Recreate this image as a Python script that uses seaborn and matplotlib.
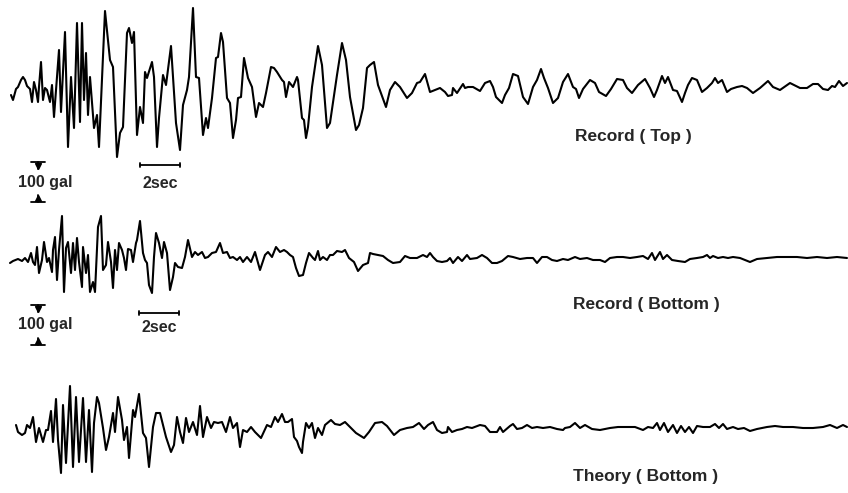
import numpy as np
import pandas as pd
import matplotlib
matplotlib.use("Agg")
import matplotlib.pyplot as plt
import seaborn as sns

# time (s), acceleration (gal)
record_top = [
    (0.55, -17.5), (0.65, -30), (0.80, -2.5), (0.90, 2.5), (1.05, 20), (1.15, 27.5),
    (1.25, 20), (1.35, 5), (1.50, -2.5), (1.60, -35), (1.70, 15), (1.80, -5),
    (1.90, -35), (1.95, 2.5), (2.05, 65), (2.15, -30), (2.25, 0), (2.35, -5),
    (2.50, -35), (2.60, 7.5), (2.70, -72.5), (2.80, -5), (2.95, 95), (3.05, -60),
    (3.25, 140), (3.40, -147.5), (3.55, 27.5), (3.70, -100), (3.85, 162.5), (4.00, -85),
    (4.10, 162.5), (4.20, -30), (4.30, 87.5), (4.40, -67.5), (4.50, 27.5), (4.70, -100),
    (4.85, -67.5), (4.95, -147.5), (5.25, 192.5), (5.50, 70), (5.65, 52.5), (5.85, -172.5),
    (6.00, -112.5), (6.15, -97.5), (6.35, 137.5), (6.45, 150), (6.60, 112.5), (6.70, 140),
    (6.85, -117.5), (7.00, -47.5), (7.15, -87.5), (7.25, 40), (7.35, 25), (7.60, 65),
    (7.70, 27.5), (7.85, -147.5), (7.95, -75), (8.10, 7.5), (8.15, 32.5), (8.30, 7.5),
    (8.55, 105), (8.65, 27.5), (8.80, -87.5), (9.00, -155), (9.15, -42.5), (9.35, -5),
    (9.45, 27.5), (9.65, 200), (9.80, 27.5), (9.95, 25), (10.15, -117.5), (10.30, -75),
    (10.40, -100), (10.60, -25), (10.80, 75), (10.90, 77.5), (11.05, 137.5), (11.15, 115),
    (11.35, -25), (11.50, -37.5), (11.65, -125), (11.80, -80), (11.90, -25), (12.05, -22.5),
    (12.20, 75), (12.40, 25), (12.60, 2.5), (12.80, -72.5), (12.95, -37.5), (13.15, -47.5),
    (13.30, -12.5), (13.55, 52.5), (13.70, 50), (13.85, 40), (14.10, 20), (14.20, 15),
    (14.30, -22.5), (14.45, 15), (14.65, 2.5), (14.85, 27.5), (14.90, 20), (15.10, -75),
    (15.20, -80), (15.30, -125), (15.40, -97.5), (15.60, 2.5), (15.90, 105), (16.10, 57.5),
    (16.35, -100), (16.50, -87.5), (16.85, 32.5), (17.10, 112.5), (17.30, 70), (17.50, -22.5),
    (17.80, -105), (17.95, -92.5), (18.15, -50), (18.35, 50), (18.50, 57.5), (18.70, 65),
    (18.90, 7.5), (19.30, -47.5), (19.50, -5), (19.75, 15), (20.00, 2.5), (20.35, -25),
    (20.60, -12.5), (20.85, 12.5), (21.00, 15), (21.25, 35), (21.50, -10), (21.75, -5),
    (22.00, 0), (22.25, -10), (22.40, -20), (22.60, -17.5), (22.65, 0), (22.85, -12.5),
    (23.15, 10), (23.25, 0), (23.40, 2.5), (23.65, 2.5), (24.00, -7.5), (24.25, 12.5),
    (24.50, 17.5), (24.65, 2.5), (24.80, -22.5), (25.10, -37.5), (25.25, -17.5), (25.45, 0),
    (25.65, 35), (25.90, 30), (26.15, -22.5), (26.40, -40), (26.65, 2.5), (26.85, 20),
    (27.05, 47.5), (27.20, 25), (27.40, 0), (27.65, -37.5), (27.90, -25), (28.15, 15),
    (28.40, 35), (28.65, 2.5), (28.80, -2.5), (28.95, -25), (29.15, -2.5), (29.50, 20),
    (29.75, 12.5), (29.95, -10), (30.30, -20), (30.55, -2.5), (30.85, 22.5), (31.15, 20),
    (31.35, 0), (31.60, -12.5), (31.90, 7.5), (32.25, 22.5), (32.50, 0), (32.70, -22.5),
    (32.85, -5), (33.10, 30), (33.25, 12.5), (33.40, 27.5), (33.65, -5), (33.85, -7.5),
    (34.10, -35), (34.25, -12.5), (34.40, 7.5), (34.60, 25), (34.85, 20), (35.10, -10),
    (35.35, 0), (35.60, 12.5), (35.75, 25), (35.90, 12.5), (36.10, 20), (36.35, -10),
    (36.55, -2.5), (36.85, 2.5), (37.10, 5), (37.35, 0), (37.65, -12.5), (38.00, 0),
    (38.40, 17.5), (38.65, 2.5), (39.00, -5), (39.50, 12.5), (40.00, 0), (40.35, 0),
    (40.65, 10), (40.90, 10), (41.15, -2.5), (41.40, -5), (41.60, 5), (41.75, 2.5),
    (41.95, 17.5), (42.15, 5), (42.35, 12.5),
]

record_bottom = [
    (0.50, -12.5), (0.65, -7.5), (0.90, -2.5), (1.10, -7.5), (1.25, 0), (1.40, -10),
    (1.55, 12.5), (1.65, -10), (1.75, -17.5), (1.85, 27.5), (1.95, -37.5), (2.10, -5),
    (2.20, 40), (2.35, -10), (2.45, 0), (2.60, -35), (2.65, 20), (2.75, 52.5),
    (2.85, -55), (2.95, 20), (3.10, 105), (3.20, -85), (3.30, 25), (3.40, 40),
    (3.55, -37.5), (3.65, 37.5), (3.75, -30), (3.85, 50), (3.95, -10), (4.10, -72.5),
    (4.15, 27.5), (4.30, -37.5), (4.40, 7.5), (4.50, -85), (4.65, -60), (4.75, -85),
    (4.90, 77.5), (5.05, 105), (5.15, -30), (5.30, -17.5), (5.40, 40), (5.55, -10),
    (5.65, -75), (5.75, 20), (5.85, -30), (5.95, 37.5), (6.10, 20), (6.20, 0),
    (6.30, -30), (6.40, 22.5), (6.55, 20), (6.65, -10), (6.80, 37.5), (6.85, 45),
    (7.00, 92.5), (7.15, 12.5), (7.25, -5), (7.35, -12.5), (7.45, -67.5), (7.60, -87.5),
    (7.70, 2.5), (7.80, 62.5), (7.95, 37.5), (8.10, 0), (8.20, 40), (8.35, 12.5),
    (8.50, -80), (8.65, -47.5), (8.75, -12.5), (8.90, -22.5), (9.10, -25), (9.25, 2.5),
    (9.40, 45), (9.60, 2.5), (9.75, 15), (9.90, 7.5), (10.10, 15), (10.25, 0),
    (10.40, 2.5), (10.60, 12.5), (10.80, 15), (11.00, 37.5), (11.15, 12.5), (11.35, 15),
    (11.50, 0), (11.65, 2.5), (11.85, -5), (12.00, 2.5), (12.15, -10), (12.35, 2.5),
    (12.55, -10), (12.75, 15), (13.00, -30), (13.25, 7.5), (13.40, 15), (13.60, 2.5),
    (13.80, 27.5), (14.00, 15), (14.20, 20), (14.35, 15), (14.50, 7.5), (14.65, 2.5),
    (14.80, -25), (14.95, -45), (15.15, -42.5), (15.30, -12.5), (15.45, 12.5), (15.65, 0),
    (15.75, -5), (15.90, 17.5), (16.00, -5), (16.15, 2.5), (16.35, -5), (16.50, 7.5),
    (16.65, 7.5), (16.85, 17.5), (17.10, 15), (17.25, 20), (17.45, 0), (17.70, -10),
    (17.90, -32.5), (18.15, -17.5), (18.40, -12.5), (18.50, 12.5), (18.65, 10), (18.90, 7.5),
    (19.15, 5), (19.40, -5), (19.65, -12.5), (20.00, -10), (20.25, 5), (20.50, 0),
    (20.85, 0), (21.15, 7.5), (21.35, 2.5), (21.50, 12.5), (21.65, 2.5), (21.85, -7.5),
    (22.10, -10), (22.35, -7.5), (22.50, 0), (22.65, -12.5), (22.90, 2.5), (23.10, -7.5),
    (23.35, 7.5), (23.50, -2.5), (23.85, 0), (24.10, 7.5), (24.35, 0), (24.60, -12.5),
    (24.85, -12.5), (25.10, -7.5), (25.40, 5), (25.65, 2.5), (26.00, -2.5), (26.35, 0),
    (26.65, 0), (26.85, -12.5), (27.10, 2.5), (27.35, 2.5), (27.60, -5), (27.85, -7.5),
    (28.15, -2.5), (28.40, -5), (28.75, 2.5), (29.00, -2.5), (29.35, 0), (29.65, -5),
    (30.00, -5), (30.25, -10), (30.50, 0), (30.85, 2.5), (31.15, 2.5), (31.50, 0),
    (31.85, 2.5), (32.15, 5), (32.40, -2.5), (32.60, 12.5), (32.75, -5), (33.00, 15),
    (33.15, -2.5), (33.35, 7.5), (33.60, -5), (33.90, -7.5), (34.25, -10), (34.50, -2.5),
    (34.85, 0), (35.15, 2.5), (35.35, 7.5), (35.50, 0), (35.65, 5), (35.90, 0),
    (36.15, 2.5), (36.40, 0), (36.65, 2.5), (37.00, 0), (37.25, -5), (37.50, -10),
    (37.85, -2.5), (38.35, 0), (38.85, 2.5), (39.35, 2.5), (39.85, 2.5), (40.35, 0),
    (40.85, 2.5), (41.35, 0), (41.85, 2.5), (42.35, 0),
]

theory_bottom = [
    (0.80, 7.5), (0.90, -10), (1.10, -17.5), (1.25, -12.5), (1.35, 7.5), (1.50, 0),
    (1.65, 27.5), (1.80, -35), (1.95, 0), (2.15, -35), (2.30, -5), (2.40, -5),
    (2.55, 42.5), (2.65, -35), (2.80, 72.5), (2.90, -30), (3.05, -112.5), (3.15, 57.5),
    (3.30, -87.5), (3.50, 105), (3.65, -97.5), (3.80, 77.5), (3.95, -85), (4.15, 75),
    (4.30, -85), (4.45, 45), (4.60, -110), (4.70, 12.5), (4.85, 77.5), (4.95, 62.5),
    (5.15, 0), (5.30, -55), (5.45, -22.5), (5.65, 37.5), (5.75, -10), (5.90, 77.5),
    (6.10, 20), (6.20, -30), (6.35, 2.5), (6.45, -75), (6.65, 45), (6.75, 27.5),
    (6.95, 85), (7.15, -12.5), (7.30, -25), (7.45, -97.5), (7.65, 2.5), (7.80, 37.5),
    (8.00, 37.5), (8.15, 7.5), (8.30, -22.5), (8.55, -60), (8.70, -42.5), (8.85, 27.5),
    (9.00, -10), (9.15, -37.5), (9.30, 25), (9.45, -10), (9.65, 15), (9.85, -17.5),
    (10.00, 55), (10.15, -22.5), (10.35, 27.5), (10.55, 0), (10.70, 15), (10.90, 12.5),
    (11.10, 15), (11.30, -10), (11.50, 27.5), (11.65, 0), (11.85, 12.5), (12.00, -47.5),
    (12.15, -5), (12.35, -10), (12.55, 2.5), (12.75, -10), (13.05, -25), (13.35, 7.5),
    (13.55, 2.5), (13.75, 27.5), (13.90, 15), (14.10, 35), (14.25, 15), (14.40, 15),
    (14.60, 22.5), (14.70, -22.5), (14.85, -32.5), (14.95, -47.5), (15.10, -62.5), (15.15, -35),
    (15.30, 12.5), (15.45, 0), (15.60, 12.5), (15.75, -25), (15.90, 0), (16.10, -17.5),
    (16.25, 7.5), (16.55, 20), (16.75, 10), (17.00, 7.5), (17.25, 15), (17.50, 2.5),
    (17.80, -12.5), (18.20, -25), (18.45, -10), (18.75, 12.5), (19.10, 15), (19.35, 5),
    (19.70, -17.5), (20.00, -5), (20.35, 0), (20.65, 2.5), (20.95, 12.5), (21.20, -2.5),
    (21.40, 7.5), (21.65, 15), (21.85, -5), (22.10, -12.5), (22.35, -10), (22.40, 2.5),
    (22.60, -10), (22.85, -5), (23.10, -2.5), (23.35, 2.5), (23.60, 0), (24.00, 7.5),
    (24.25, 5), (24.50, -10), (24.85, -10), (25.00, 2.5), (25.15, -10), (25.50, 5),
    (25.65, 10), (25.85, -2.5), (26.10, 0), (26.35, 7.5), (26.60, 0), (26.85, 2.5),
    (27.15, 0), (27.50, 2.5), (27.85, -2.5), (28.15, -5), (28.25, 0), (28.50, 2.5),
    (28.75, 12.5), (29.00, 0), (29.25, 7.5), (29.60, -2.5), (30.00, -5), (30.50, 0),
    (30.90, 2.5), (31.35, 2.5), (31.75, 2.5), (32.15, -5), (32.40, 2.5), (32.65, 0),
    (32.85, 12.5), (33.00, -5), (33.20, 12.5), (33.40, -10), (33.65, 7.5), (33.85, -12.5),
    (34.05, 5), (34.25, -10), (34.45, 2.5), (34.65, -12.5), (34.85, 5), (35.15, 2.5),
    (35.50, 2.5), (35.75, 10), (35.95, 0), (36.15, 10), (36.35, -2.5), (36.65, 2.5),
    (36.90, -2.5), (37.20, 0), (37.50, -7.5), (37.85, -2.5), (38.35, 2.5), (38.75, 5),
    (39.15, 2.5), (39.65, 2.5), (40.15, 0), (40.65, 0), (41.15, 2.5), (41.50, 7.5),
    (41.85, 0), (42.15, 7.5), (42.35, 2.5),
]

labels = ["Record ( Top )", "Record ( Bottom )", "Theory ( Bottom )"]

W, H = 848, 493
PX_PER_S = 20.0
PX_PER_GAL = 0.4

sns.set_theme(style="white")
plt.rcParams["font.family"] = ["Liberation Sans", "DejaVu Sans"]

fig = plt.figure(figsize=(W / 100, H / 100), dpi=100)


def band(top_px, bot_px, base_px):
    ax = fig.add_axes([0, 1 - bot_px / H, 1, (bot_px - top_px) / H])
    ax.set_xlim(0, W / PX_PER_S)
    ax.set_ylim((base_px - bot_px) / PX_PER_GAL, (base_px - top_px) / PX_PER_GAL)
    ax.axis("off")
    return ax


def trace(ax, pts):
    df = pd.DataFrame(pts, columns=["t", "acc"])
    sns.lineplot(data=df, x="t", y="acc", ax=ax, color="black", lw=1.5,
                 estimator=None, sort=False, solid_joinstyle="round",
                 solid_capstyle="round")


def gal_bar(ax, t, top):
    bot = top - 100
    kw = dict(color="black", lw=1.3)
    ax.plot([t - 0.35, t + 0.35], [top, top], **kw)
    ax.plot([t - 0.35, t + 0.35], [bot, bot], **kw)
    ax.plot([t, t], [top, top - 18], **kw)
    ax.plot([t, t], [bot, bot + 18], **kw)
    ax.plot([t], [top - 10], marker="v", ms=4, color="black")
    ax.plot([t], [bot + 10], marker="^", ms=4, color="black")
    ax.text(t + 0.35, (top + bot) / 2, "100 gal", ha="center", va="center",
            fontsize=11.5, fontweight="bold")


def sec_bar(ax, t0, y, ytext):
    kw = dict(color="black", lw=1.3)
    ax.plot([t0, t0 + 2], [y, y], **kw)
    ax.plot([t0, t0], [y - 6, y + 6], **kw)
    ax.plot([t0 + 2, t0 + 2], [y - 6, y + 6], **kw)
    ax.text(t0 + 1, ytext, "2sec", ha="center", va="center",
            fontsize=11.5, fontweight="bold")


ax1 = band(0, 205, 88)
trace(ax1, record_top)
gal_bar(ax1, 1.9, -185)
sec_bar(ax1, 7.0, -192.5, -237.5)
ax1.text(28.75, -122.5, labels[0], ha="left", va="center", fontsize=12.5, fontweight="bold")

ax2 = band(205, 350, 258)
trace(ax2, record_bottom)
gal_bar(ax2, 1.9, -117.5)
sec_bar(ax2, 6.95, -137.5, -172.5)
ax2.text(28.65, -117.5, labels[1], ha="left", va="center", fontsize=12.5, fontweight="bold")

ax3 = band(350, 493, 428)
trace(ax3, theory_bottom)
ax3.text(28.65, -122.5, labels[2], ha="left", va="center", fontsize=12.5, fontweight="bold")

fig.savefig("out.png", dpi=100, facecolor="white")
